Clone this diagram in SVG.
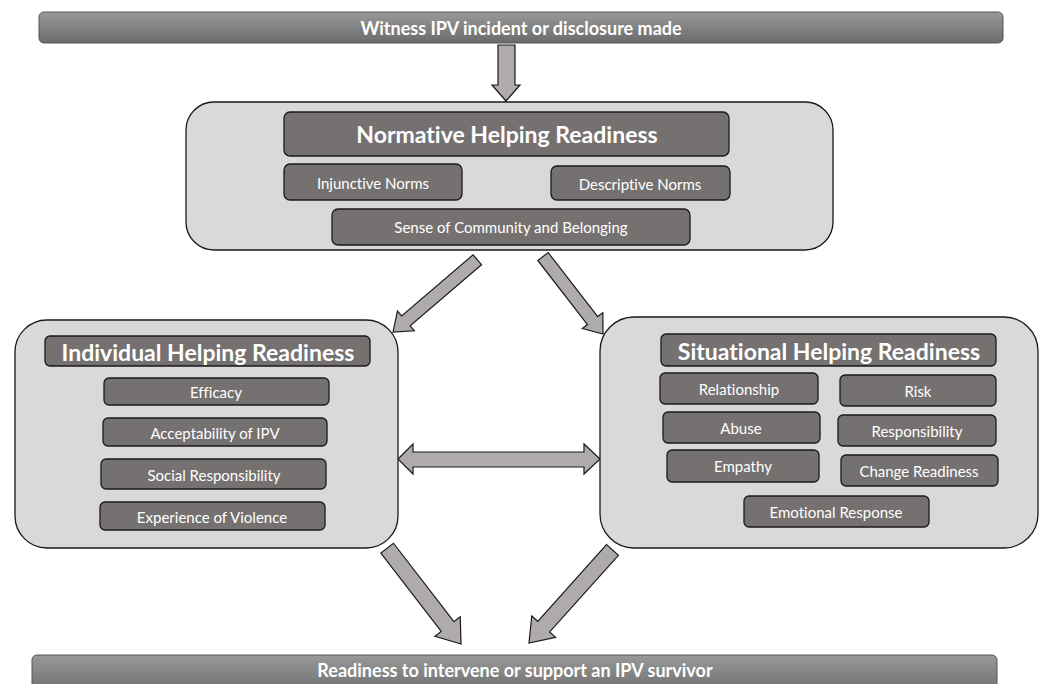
<svg xmlns="http://www.w3.org/2000/svg" width="1044" height="684" viewBox="0 0 1044 684">
<defs>
<linearGradient id="barGrad" x1="0" y1="0" x2="0" y2="1">
<stop offset="0" stop-color="#999999"/>
<stop offset="1" stop-color="#6b6b6b"/>
</linearGradient>
<style>
text{font-variant-ligatures:none}
.bar{fill:url(#barGrad);stroke:#555;stroke-width:1}
.bartxt{font-family:Lato,"Liberation Sans",sans-serif;font-weight:bold;font-size:18px;fill:#fff;text-anchor:middle;dominant-baseline:central}
.panel{fill:#d9d9d9;stroke:#1a1a1a;stroke-width:1.3}
.box{fill:#767171;stroke:#1a1a1a;stroke-width:1.3}
.title{font-family:Lato,"Liberation Sans",sans-serif;font-weight:bold;font-size:23px;fill:#fff;text-anchor:middle;dominant-baseline:central}
.lbl{font-family:Lato,"Liberation Sans",sans-serif;font-size:15px;fill:#fff;text-anchor:middle;dominant-baseline:central}
.arr{fill:#afabab;stroke:#1a1a1a;stroke-width:1.2;stroke-linejoin:miter}
</style>
</defs>
<rect width="1044" height="684" fill="#fff"/>

<g id="start">
<rect class="bar" x="39" y="12" width="964" height="31" rx="5"/>
<text class="bartxt" x="521" y="28">Witness IPV incident or disclosure made</text>
</g>

<g id="connectors">
<polygon class="arr" points="498,45 515,45 515,85 520,85 506,101 492,85 498,85"/>
<polygon class="arr" transform="translate(393,332) rotate(139.4)" points="-111,-6.5 -17,-6.5 -17,-13 0,0 -17,13 -17,6.5 -111,6.5"/>
<polygon class="arr" transform="translate(603,334) rotate(52.25)" points="-98,-6.5 -17,-6.5 -17,-13 0,0 -17,13 -17,6.5 -98,6.5"/>
<polygon class="arr" points="398,459 413,444 413,452 584,452 584,444 600,459 584,474 584,467 413,467 413,474"/>
<polygon class="arr" transform="translate(461,644) rotate(52.4)" points="-121,-8 -22,-8 -22,-16 0,0 -22,16 -22,8 -121,8"/>
<polygon class="arr" transform="translate(529,643) rotate(131.9)" points="-125,-8 -22,-8 -22,-16 0,0 -22,16 -22,8 -125,8"/>
</g>

<g id="normative">
<rect class="panel" x="186" y="102" width="647" height="148" rx="28"/>
<rect class="box" x="284" y="112" width="445" height="44" rx="6"/>
<text class="title" x="507" y="134">Normative Helping Readiness</text>
<rect class="box" x="284" y="164" width="178" height="36" rx="6"/>
<text class="lbl" x="373" y="183">Injunctive Norms</text>
<rect class="box" x="551" y="166" width="179" height="34" rx="6"/>
<text class="lbl" x="640" y="184">Descriptive Norms</text>
<rect class="box" x="332" y="209" width="358" height="36" rx="6"/>
<text class="lbl" x="511" y="227">Sense of Community and Belonging</text>
</g>

<g id="individual">
<rect class="panel" x="15" y="320" width="383" height="228" rx="32"/>
<rect class="box" x="45" y="336" width="325" height="30" rx="5"/>
<text class="title" x="208" y="352">Individual Helping Readiness</text>
<rect class="box" x="104" y="378" width="225" height="27" rx="5"/>
<text class="lbl" x="216" y="392">Efficacy</text>
<rect class="box" x="103" y="418" width="224" height="28" rx="5"/>
<text class="lbl" x="215" y="433">Acceptability of IPV</text>
<rect class="box" x="101" y="459" width="225" height="30" rx="5"/>
<text class="lbl" x="214" y="475">Social Responsibility</text>
<rect class="box" x="100" y="502" width="225" height="28" rx="5"/>
<text class="lbl" x="212" y="517">Experience of Violence</text>
</g>

<g id="situational">
<rect class="panel" x="600" y="317" width="438" height="231" rx="34"/>
<rect class="box" x="661" y="334" width="335" height="32" rx="5"/>
<text class="title" x="829" y="351">Situational Helping Readiness</text>
<rect class="box" x="660" y="373" width="158" height="31" rx="5"/>
<text class="lbl" x="739" y="389">Relationship</text>
<rect class="box" x="840" y="375" width="156" height="31" rx="5"/>
<text class="lbl" x="918" y="391">Risk</text>
<rect class="box" x="663" y="412" width="157" height="31" rx="5"/>
<text class="lbl" x="741" y="428">Abuse</text>
<rect class="box" x="838" y="415" width="158" height="31" rx="5"/>
<text class="lbl" x="917" y="431">Responsibility</text>
<rect class="box" x="667" y="450" width="152" height="32" rx="5"/>
<text class="lbl" x="743" y="466">Empathy</text>
<rect class="box" x="841" y="455" width="157" height="31" rx="5"/>
<text class="lbl" x="919" y="471">Change Readiness</text>
<rect class="box" x="744" y="496" width="185" height="31" rx="5"/>
<text class="lbl" x="836" y="512">Emotional Response</text>
</g>

<g id="end">
<rect class="bar" x="32" y="655" width="965" height="40" rx="5"/>
<text class="bartxt" x="515" y="670">Readiness to intervene or support an IPV survivor</text>
</g>
</svg>
